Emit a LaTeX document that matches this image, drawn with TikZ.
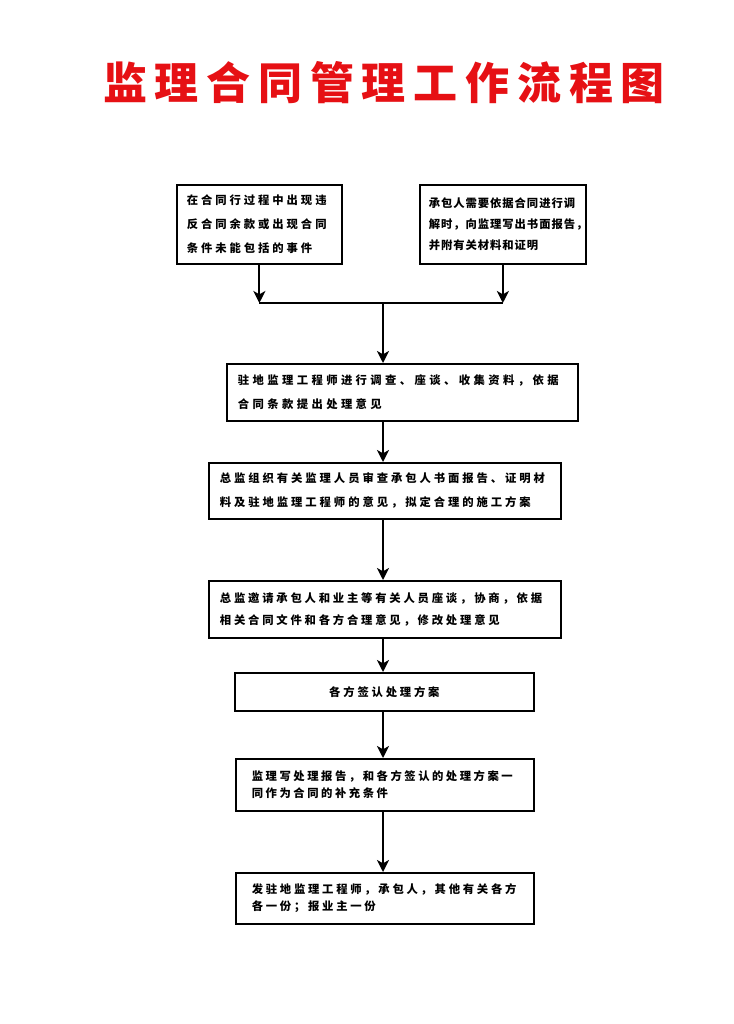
\documentclass[tikz,border=0pt]{standalone}
\usepackage{fontspec}
\newfontfamily\cjk{Noto Sans CJK SC}
\usetikzlibrary{arrows.meta}
\definecolor{titlered}{RGB}{230,16,20}
\ExplSyntaxOn
\NewDocumentCommand\spread{mm}{
  \bool_set_true:N \l_tmpa_bool
  \tl_map_inline:nn {#2}
   { \bool_if:NTF \l_tmpa_bool { \bool_set_false:N \l_tmpa_bool } { \kern #1\relax } ##1 }
}
\ExplSyntaxOff
\tikzset{
  box/.style={draw, line width=1.3pt, rectangle, anchor=north west, align=left, inner ysep=0pt},
  arr/.style={line width=1.6pt, -{Stealth[length=9pt,width=9pt,inset=2.5pt]}},
  ln/.style={line width=1.6pt}
}
\begin{document}
\begin{tikzpicture}[x=0.75pt,y=-0.75pt]
\fill[white] (0,0) rectangle (733,1024);
\useasboundingbox (0,0) rectangle (733,1024);

\node[font=\cjk\bfseries\fontsize{33}{33}\selectfont, text=titlered] (title) at (384,83)
  {\spread{5.85pt}{监理合同管理工作流程图}};

\node[box, minimum width=123.75pt, minimum height=59.25pt, inner xsep=7.5pt, text width=108.75pt,
      font=\cjk\bfseries\fontsize{8.5}{18}\selectfont] (b1) at (176,184)
  {\spread{2.2pt}{在合同行过程中出现违}\\\spread{2.2pt}{反合同余款或出现合同}\\\spread{2.2pt}{条件未能包括的事件}};

\node[box, minimum width=124.5pt, minimum height=59.25pt, inner xsep=6.75pt, text width=111pt,
      font=\cjk\bfseries\fontsize{8.5}{15.75}\selectfont] (b2) at (419,184)
  {\spread{0.7pt}{承包人需要依据合同进行调}\\\spread{0.7pt}{解时，向监理写出书面报告，}\\\spread{0.7pt}{并附有关材料和证明}};

\node[box, minimum width=263.25pt, minimum height=42.75pt, inner xsep=8.25pt, text width=246.75pt,
      font=\cjk\bfseries\fontsize{8.5}{18}\selectfont] (b3) at (226,363)
  {\spread{2.55pt}{驻地监理工程师进行调查、座谈、收集资料，依据}\\\spread{2.55pt}{合同条款提出处理意见}};

\node[box, minimum width=264pt, minimum height=42pt, inner xsep=8.25pt, text width=247.5pt,
      font=\cjk\bfseries\fontsize{8.5}{18}\selectfont] (b4) at (208,462)
  {\spread{2.2pt}{总监组织有关监理人员审查承包人书面报告、证明材}\\\spread{2.2pt}{料及驻地监理工程师的意见，拟定合理的施工方案}};

\node[box, minimum width=264pt, minimum height=42.75pt, inner xsep=8.25pt, text width=247.5pt,
      font=\cjk\bfseries\fontsize{8.5}{16.5}\selectfont] (b5) at (208,580)
  {\spread{2.1pt}{总监邀请承包人和业主等有关人员座谈，协商，依据}\\\spread{2.1pt}{相关合同文件和各方合理意见，修改处理意见}};

\node[box, minimum width=224.25pt, minimum height=28.5pt, inner xsep=8.25pt, text width=207.75pt, align=center,
      font=\cjk\bfseries\fontsize{8.5}{16}\selectfont] (b6) at (234,672)
  {\spread{2.1pt}{各方签认处理方案}};

\node[box, minimum width=223.5pt, minimum height=39pt, inner xsep=12pt, text width=199.5pt,
      font=\cjk\bfseries\fontsize{8.5}{12.4}\selectfont] (b7) at (235,758)
  {\spread{1.9pt}{监理写处理报告，和各方签认的处理方案一}\\\spread{1.9pt}{同作为合同的补充条件}};

\node[box, minimum width=223.5pt, minimum height=38.25pt, inner xsep=12pt, text width=199.5pt,
      font=\cjk\bfseries\fontsize{8.5}{12.75}\selectfont] (b8) at (235,872)
  {\spread{2.05pt}{发驻地监理工程师，承包人，其他有关各方}\\\spread{2.05pt}{各一份；报业主一份}};

\coordinate (j) at (383,303);
\draw[arr] (b1.south) -- (b1.south |- j);
\draw[arr] (b2.south) -- (b2.south |- j);
\draw[ln] (b1.south |- j) -- (b2.south |- j);
\draw[arr] (j) -- (j |- b3.north);
\draw[arr] (j |- b3.south) -- (j |- b4.north);
\draw[arr] (j |- b4.south) -- (j |- b5.north);
\draw[arr] (j |- b5.south) -- (j |- b6.north);
\draw[arr] (j |- b6.south) -- (j |- b7.north);
\draw[arr] (j |- b7.south) -- (j |- b8.north);
\end{tikzpicture}
\end{document}
